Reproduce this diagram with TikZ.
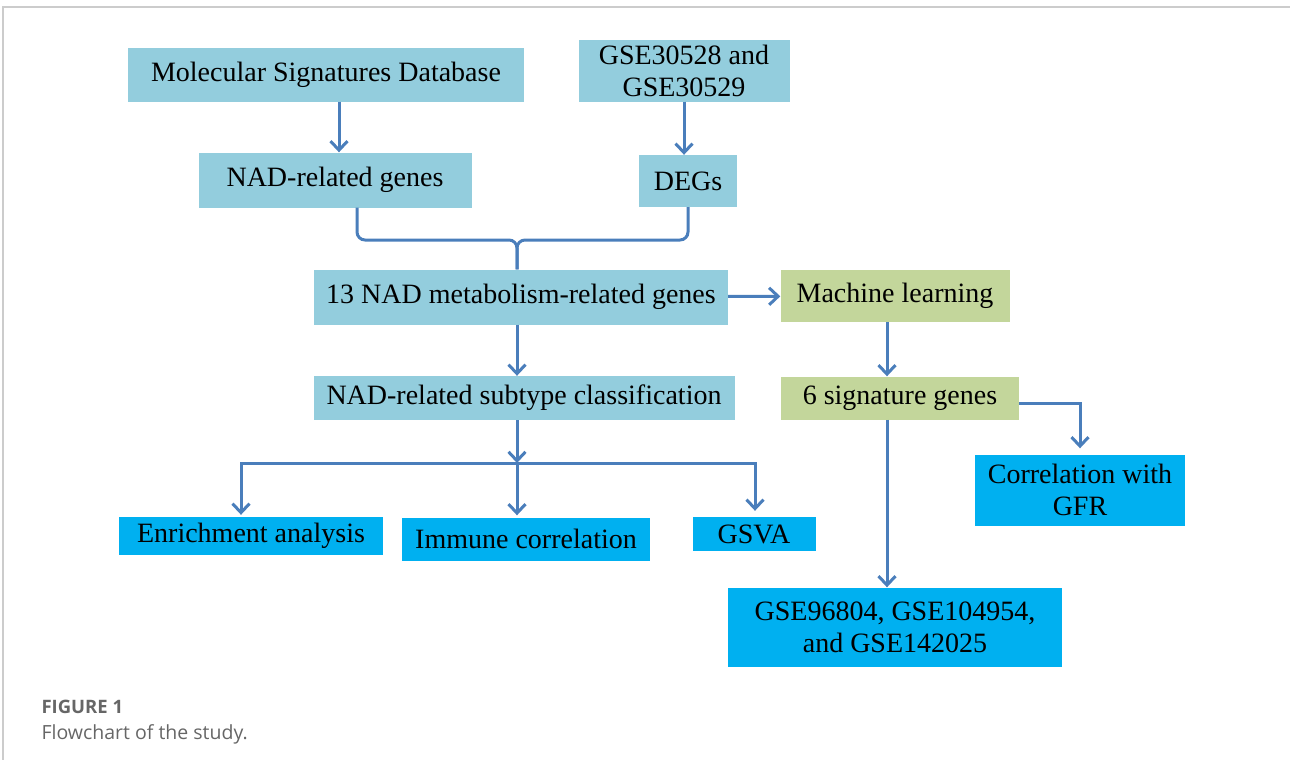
\documentclass[tikz,border=0pt]{standalone}
\usepackage{fontspec}
\setmainfont{Liberation Serif}
\newfontfamily\capfont{Open Sans}
\usetikzlibrary{arrows.meta,positioning}

\definecolor{paleblue}{HTML}{93CDDD}
\definecolor{skyblue}{HTML}{00B0F0}
\definecolor{mlgreen}{HTML}{C3D69B}
\definecolor{arrowblue}{HTML}{4A7EBB}
\definecolor{framegray}{HTML}{CCCCCC}
\definecolor{capgray}{HTML}{666666}

\tikzset{
  box/.style={rectangle, inner sep=0pt, align=center, font=\fontsize{28}{32}\selectfont},
  aquabox/.style={box, fill=paleblue},
  greenbox/.style={box, fill=mlgreen},
  cyanbox/.style={box, fill=skyblue},
  line/.style={draw=arrowblue, line width=3pt},
  arr/.style={line, -{Straight Barb[length=9pt,width=17pt]}},
}

\begin{document}
\begin{tikzpicture}
\useasboundingbox (0,0) rectangle (1290pt,-760pt);
% frame
\draw[framegray, line width=2pt] (3pt,-760pt) -- (3pt,-7pt) -- (1290pt,-7pt);

% top rows
\node[aquabox, minimum width=396pt, minimum height=53pt] (msd) at (326pt,-75pt) {Molecular Signatures Database};
\node[aquabox, right of=msd, node distance=358pt, yshift=4pt, minimum width=211pt, minimum height=61pt] (gse) {GSE30528 and\\GSE30529};
\node[aquabox, below of=msd, node distance=105pt, xshift=9pt, minimum width=273pt, minimum height=55pt] (nadg) {NAD-related genes};
\node[aquabox, below of=gse, node distance=110pt, xshift=4pt, minimum width=98pt, minimum height=52pt] (degs) {DEGs};

\node[aquabox, minimum width=414pt, minimum height=55pt] (nad13) at (521pt,-297pt) {13 NAD metabolism-related genes};
\node[greenbox, right of=nad13, node distance=374pt, yshift=1pt, minimum width=229pt, minimum height=52pt] (ml) {Machine learning};
\node[aquabox, below of=nad13, node distance=101pt, xshift=3pt, minimum width=421pt, minimum height=44pt] (sub) {NAD-related subtype classification};
\node[greenbox, below of=ml, node distance=102pt, xshift=5pt, minimum width=238pt, minimum height=43pt] (sig) {6 signature genes};

% bottom rows
\node[cyanbox, minimum width=264pt, minimum height=38pt] (enr) at (251pt,-536pt) {Enrichment analysis};
\node[cyanbox, right of=enr, node distance=275pt, yshift=-3pt, minimum width=248pt, minimum height=43pt] (imm) {Immune correlation};
\node[cyanbox, right of=imm, node distance=228pt, yshift=5pt, minimum width=123pt, minimum height=34pt] (gsva) {GSVA};
\node[cyanbox, minimum width=210pt, minimum height=71pt] (gfr) at (1080pt,-490pt) {Correlation with\\GFR};
\node[cyanbox, below of=sig, node distance=229pt, xshift=-5pt, minimum width=334pt, minimum height=79pt] (val) {GSE96804, GSE104954,\\and GSE142025};

\coordinate[above of=nad13, node distance=57pt, xshift=-4pt] (join);
\coordinate[below of=sub, node distance=65pt, xshift=-7pt] (bus);

% connectors
\draw[arr] ([xshift=4pt]nadg.north |- msd.south) -- ([xshift=4pt]nadg.north);
\draw[arr] (gse.south) -- (gse.south |- degs.north);
\draw[line, rounded corners=8pt] ([xshift=22pt]nadg.south) |- (join) -- (join |- nad13.north);
\draw[line, rounded corners=8pt] (degs.south) |- (join) -- (join |- nad13.north);
\draw[arr] (nad13) -- (ml);
\draw[arr] (join |- nad13.south) -- (join |- sub.north);
\draw[arr] ([xshift=-8pt]ml.south) -- ([xshift=-8pt]ml.south |- sig.north);
\draw[arr] (bus |- sub.south) -- (bus);
\draw[arr, shorten >=2pt] (bus) -| ([xshift=-10pt]enr.north);
\draw[arr, shorten >=2pt] (bus) -- (bus |- imm.north);
\draw[arr, shorten >=6pt] (bus) -| ([xshift=1pt]gsva.north);
\draw[arr, shorten >=6pt] ([yshift=-5pt]sig.east) -| (gfr.north);
\draw[arr] ([xshift=-13pt]sig.south) -- ([xshift=-13pt]sig.south |- val.north);

% caption
\node[anchor=base west, font=\capfont\bfseries\fontsize{18.5}{22}\selectfont, text=capgray] (figno) at (38pt,-713pt) {FIGURE 1};
\node[anchor=base west, font=\capfont\fontsize{19.5}{22}\selectfont, text=capgray] (figcap) at ([yshift=-26pt]figno.base west) {Flowchart of the study.};
\end{tikzpicture}
\end{document}
